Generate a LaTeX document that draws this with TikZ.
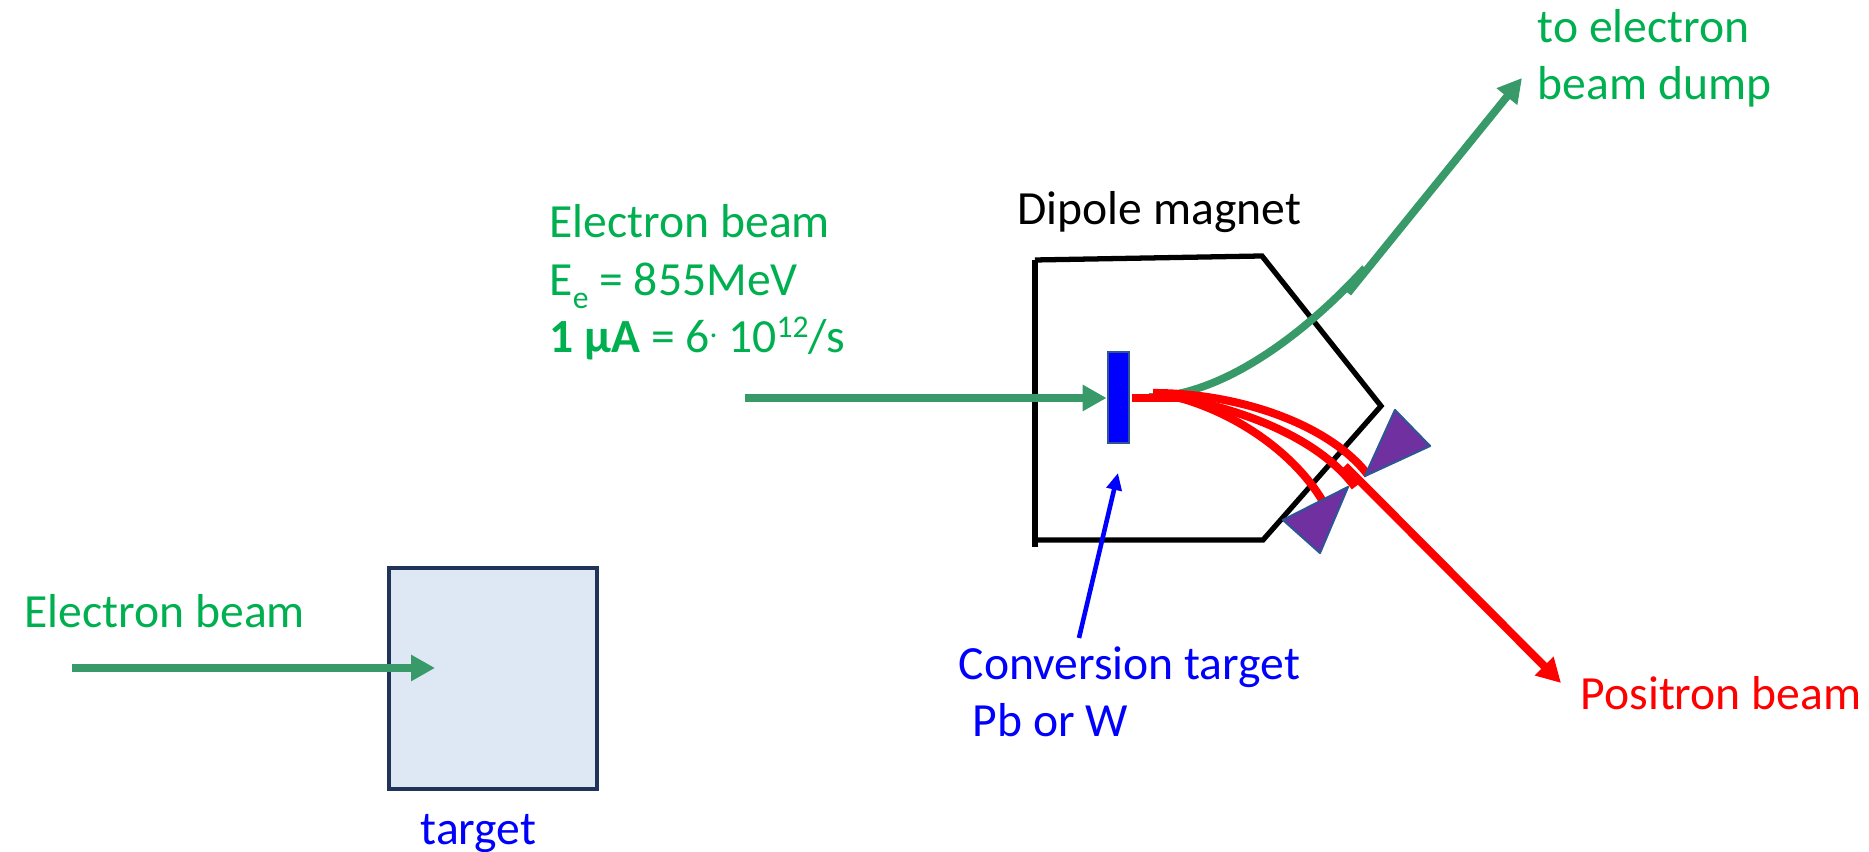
\documentclass[tikz,border=0pt]{standalone}
\usepackage{fontspec}
\setmainfont{Carlito}
\usetikzlibrary{arrows.meta}
\definecolor{labelgreen}{HTML}{00B050}
\definecolor{beamgreen}{HTML}{389A68}
\definecolor{boxfill}{HTML}{DEE8F5}
\definecolor{boxedge}{HTML}{1F3458}
\definecolor{barpurple}{HTML}{7030A0}
\definecolor{baredge}{HTML}{2F5597}
\newcommand{\lowtext}[1]{\smash{\raisebox{-3.8pt}{\fontsize{9}{9}\selectfont #1}}}
\newcommand{\hightext}[1]{\smash{\raisebox{4.4pt}{\fontsize{9}{9}\selectfont #1}}}
\tikzset{
  label text/.style={anchor=base west, inner sep=0pt, align=left, font=\fontsize{13.55}{16.45}\selectfont},
  electron/.style={line width=2.2pt, beamgreen},
  electron arrow/.style={electron, -{Triangle[length=2.4mm, width=2.5mm]}},
  positron/.style={line width=2.3pt, red},
  magnet/.style={line width=1.5pt, black},
  detector/.style={draw=baredge, fill=barpurple, line width=0.6pt, line join=round}
}
\begin{document}
\begin{tikzpicture}
  \useasboundingbox (0,0) rectangle (18.69,8.52);

  % Cible seule
  \node[draw=boxedge, fill=boxfill, line width=1pt, minimum width=2.08cm, minimum height=2.21cm, inner sep=0pt] (targetbox) at (4.93,1.735) {};
  \node[label text, text=blue] (targetlabel) at (4.20,0.07) {target};
  \node[label text, text=labelgreen] (beamlabel) at (0.24,2.24) {Electron beam};
  \coordinate (beamstart) at (0.72,1.84);
  \coordinate (beamstop) at (4.35,1.84);
  \draw[electron arrow] (beamstart) -- (beamstop);

  % Aimant dipolaire
  \coordinate (magnetA) at (10.35,5.92);
  \coordinate (magnetB) at (12.62,5.96);
  \coordinate (magnetC) at (13.81,4.46);
  \coordinate (magnetD) at (12.63,3.12);
  \coordinate (magnetE) at (10.35,3.12);
  \coordinate (magnetF) at (10.35,3.05);
  \draw[magnet] (magnetA) -- (magnetB) -- (magnetC) -- (magnetD) -- (magnetE);
  \draw[magnet] (magnetA) -- (magnetF);
  \node[label text] (magnetlabel) at (10.17,6.27) {Dipole magnet};

  % Cible de conversion
  \node[draw=baredge, fill=blue, line width=0.8pt, minimum width=0.21cm, minimum height=0.91cm, inner sep=0pt] (convbar) at (11.185,4.545) {};
  \node[label text, text=blue] (convlabel) at (9.58,1.15) {Conversion target\\ \hspace{0.14cm}Pb or W};
  \coordinate (convtail) at (10.79,2.14);
  \coordinate (convtip) at (11.18,3.79);
  \draw[line width=1.3pt, blue, -{Triangle[length=1.7mm, width=1.5mm]}] (convtail) -- (convtip);

  % Faisceau d'electrons
  \node[label text, text=labelgreen] (electronlabel) at (5.49,4.99) {Electron beam\\ E\lowtext{e} = 855MeV\\ \textbf{1 µA} = 6\hightext{.} 10\hightext{12}/s};
  \coordinate (electronstart) at (7.45,4.54);
  \draw[electron arrow] (electronstart) -- (electronstart -| convbar.west);
  \coordinate (dumpstart) at (11.49,4.55);
  \coordinate (dumpend) at (13.65,5.84);
  \coordinate (dumpfrom) at (13.48,5.59);
  \coordinate (dumptip) at (15.22,7.74);
  \draw[electron] (dumpstart) .. controls (12.10,4.55) and (12.90,5.02) .. (dumpend);
  \draw[electron arrow] (dumpfrom) -- (dumptip);
  \node[label text, text=labelgreen] (dumplabel) at (15.37,7.52) {to electron\\ beam dump};

  % Positrons
  \coordinate (redstart) at (11.32,4.54);
  \coordinate (redmid) at (11.80,4.54);
  \coordinate (redtop) at (11.53,4.59);
  \coordinate (lowend) at (13.22,3.52);
  \coordinate (midend) at (13.55,3.65);
  \coordinate (topend) at (13.68,3.77);
  \coordinate (redfrom) at (13.45,3.86);
  \coordinate (redtip) at (15.61,1.69);
  \draw[positron] (redstart) -- (redmid);
  \draw[positron] (redmid) .. controls (12.40,4.37) and (12.95,3.97) .. (lowend);
  \draw[positron] (redmid) .. controls (12.50,4.40) and (13.20,4.12) .. (midend);
  \draw[positron] (redtop) .. controls (12.40,4.59) and (13.30,4.27) .. (topend);
  \draw[positron, -{Triangle[length=2.4mm, width=2.5mm]}] (redfrom) -- (redtip);
  \node[label text, text=red] (positronlabel) at (15.80,1.42) {Positron beam};

  % Detecteurs
  \draw[detector] (13.95,4.42) -- (14.30,4.06) -- (13.65,3.76) -- cycle;
  \draw[detector] (13.48,3.65) -- (12.83,3.32) -- (13.20,2.99) -- cycle;
\end{tikzpicture}
\end{document}
